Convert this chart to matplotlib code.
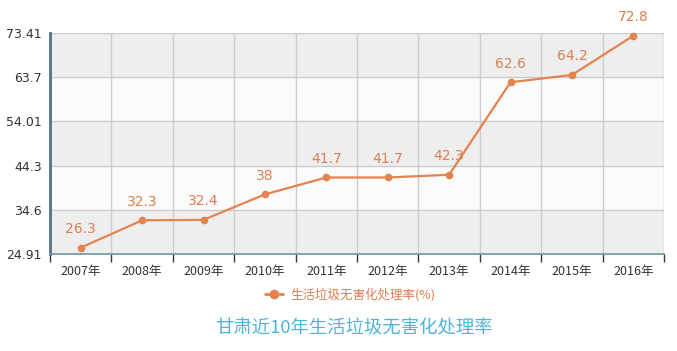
import matplotlib
matplotlib.use("Agg")
import matplotlib.pyplot as plt
from matplotlib.lines import Line2D

plt.rcParams['font.family'] = ['Noto Sans CJK SC', 'DejaVu Sans']

years = ["2007年", "2008年", "2009年", "2010年", "2011年", "2012年", "2013年", "2014年", "2015年", "2016年"]
values = [26.3, 32.3, 32.4, 38, 41.7, 41.7, 42.3, 62.6, 64.2, 72.8]
value_labels = ["26.3", "32.3", "32.4", "38", "41.7", "41.7", "42.3", "62.6", "64.2", "72.8"]
yticks = [24.91, 34.6, 44.3, 54.01, 63.7, 73.41]
ytick_labels = ["24.91", "34.6", "44.3", "54.01", "63.7", "73.41"]
series_name = "生活垃圾无害化处理率(%)"
title = "甘肃近10年生活垃圾无害化处理率"

orange = "#e3834f"
label_col = "#dc7f52"
axis_col = "#4f7488"

fig = plt.figure(figsize=(6.77, 3.51), dpi=100)
ax = fig.add_axes([50/677, 1-254/351, 614/677, 221/351])

n = len(years)
ax.set_xlim(-0.5, n-0.5)
ax.set_ylim(yticks[0], yticks[-1])

# alternating bands
for i in range(len(yticks)-1):
    c = "#eeeeee" if i % 2 == 0 else "#fbfbfb"
    ax.axhspan(yticks[i], yticks[i+1], color=c, zorder=0, lw=0)

for y in yticks[1:]:
    ax.axhline(y, color="#cccccc", lw=1, zorder=1)
for k in range(1, n+1):
    ax.axvline(k-0.5, color="#cccccc", lw=1, zorder=1)

xs = list(range(n))
ax.plot(xs, values, color=orange, lw=1.6, marker="o", ms=4.5, zorder=3, clip_on=False)
for x, v, t in zip(xs, values, value_labels):
    ax.annotate(t, (x, v), xytext=(0, 13.5), textcoords="offset points",
                ha="center", va="center", color=label_col, fontsize=10,
                family=['DejaVu Sans'], annotation_clip=False)

ax.set_xticks(xs)
ax.set_xticklabels(years, fontsize=9, color="#333333")
ax.tick_params(axis='x', length=0, pad=8)
ax.set_xticks([k-0.5 for k in range(n+1)], minor=True)
ax.tick_params(axis='x', which='minor', length=6, color="#333333", width=1)
ax.set_yticks(yticks)
ax.set_yticklabels(ytick_labels, fontsize=9, color="#333333", family=['DejaVu Sans'])
ax.tick_params(axis='y', length=0, pad=6)

for s in ["top", "right"]:
    ax.spines[s].set_visible(False)
ax.spines["left"].set_color(axis_col)
ax.spines["left"].set_linewidth(2)
ax.spines["bottom"].set_color("#6e93a8")
ax.spines["bottom"].set_linewidth(1.2)

h = Line2D([0], [0], color=orange, lw=2, marker="o", ms=6, linestyle="--")
fig.legend([h], [series_name], loc="center", bbox_to_anchor=(350/677, 1-295/351),
           frameon=False, fontsize=9, labelcolor=label_col, handlelength=1.6, handletextpad=0.5)

fig.text(354/677, 1-328/351, title, ha="center", va="center", fontsize=13.2, color="#4fb4d8")

fig.savefig("out.png", dpi=100)
